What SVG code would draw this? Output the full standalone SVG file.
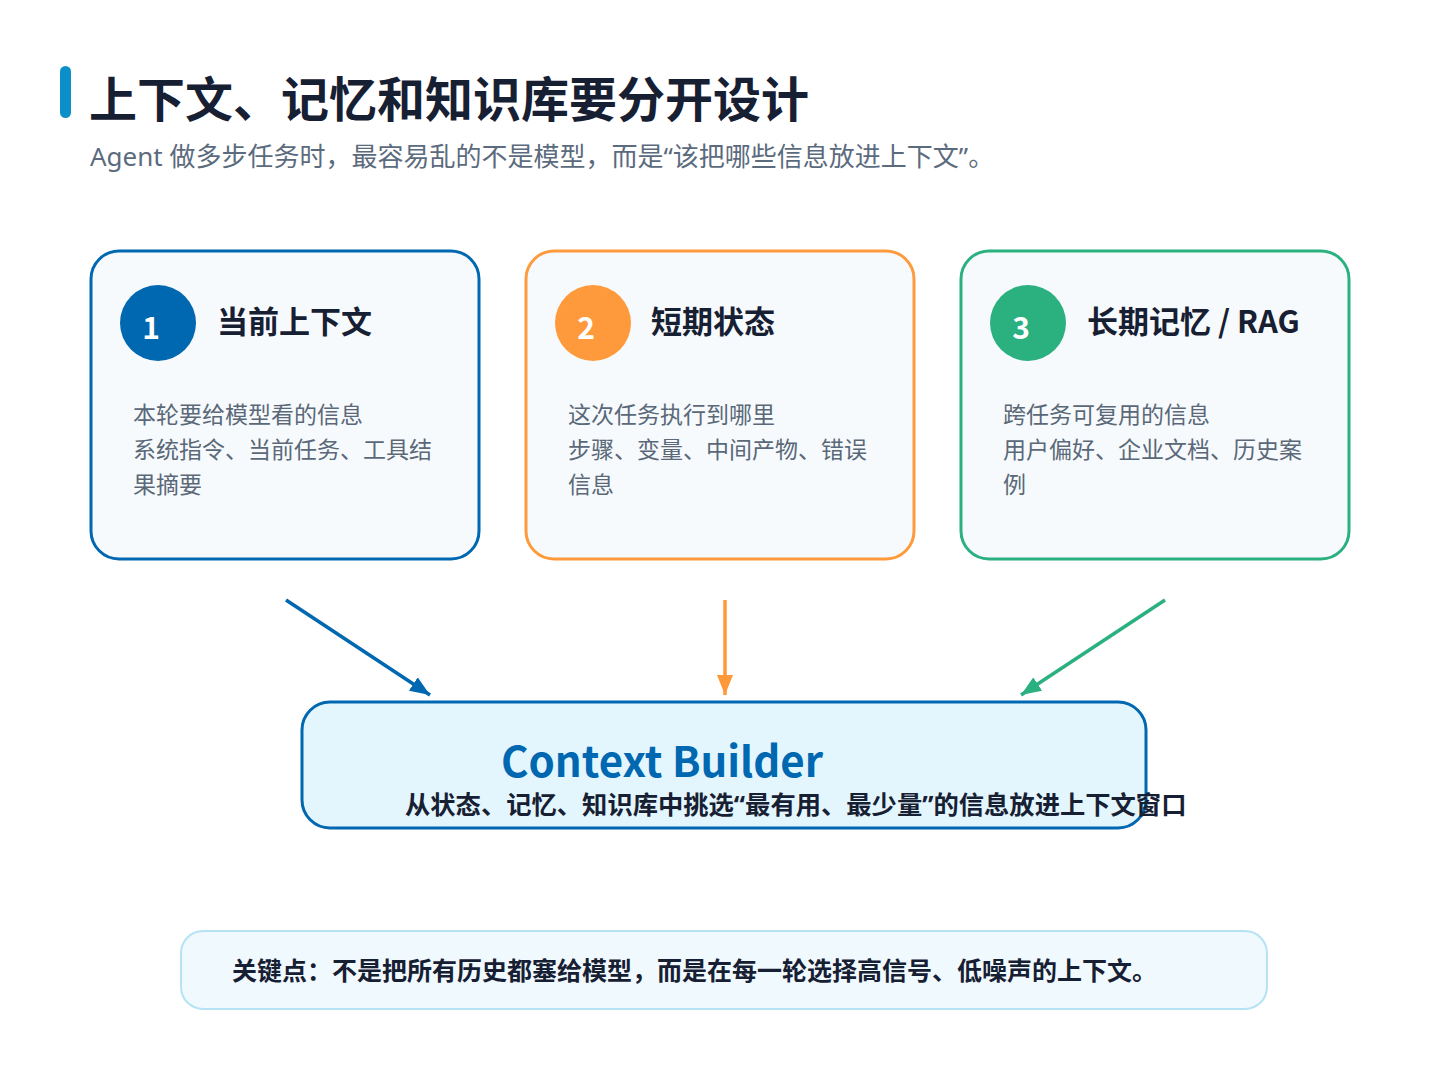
<svg xmlns="http://www.w3.org/2000/svg" width="1448" height="1086" viewBox="0 0 1448 1086">
<defs>
<style>
text{font-family:"Noto Sans CJK SC","Noto Sans",sans-serif;}
.lat{font-family:"Noto Sans","Noto Sans CJK SC",sans-serif;}
.title{font-size:48px;font-weight:700;fill:#172033;}
.sub{font-size:26px;fill:#5b6b7d;}
.card{stroke-width:3;fill:#f6fafd;}
.ct{font-size:31px;font-weight:700;fill:#172033;}
.num{font-size:30px;font-weight:700;fill:#ffffff;text-anchor:middle;}
.body{font-size:23px;fill:#5a6878;}
.conn{stroke-width:3.5;fill:none;}
</style>
<marker id="ab" viewBox="0 0 20 16" refX="20" refY="8" markerWidth="20" markerHeight="16" markerUnits="userSpaceOnUse" orient="auto"><path d="M0,0 L20,8 L0,16 Z" fill="#0067b1"/></marker>
<marker id="ao" viewBox="0 0 20 16" refX="20" refY="8" markerWidth="20" markerHeight="16" markerUnits="userSpaceOnUse" orient="auto"><path d="M0,0 L20,8 L0,16 Z" fill="#ff9838"/></marker>
<marker id="ag" viewBox="0 0 20 16" refX="20" refY="8" markerWidth="20" markerHeight="16" markerUnits="userSpaceOnUse" orient="auto"><path d="M0,0 L20,8 L0,16 Z" fill="#2bb07f"/></marker>
</defs>
<rect width="1448" height="1086" fill="#ffffff"/>
<g id="header">
<rect x="60" y="66" width="11" height="52" rx="5.5" fill="#0a8fc9"/>
<text class="title" x="89" y="117">上下文、记忆和知识库要分开设计</text>
<text class="sub lat" x="90" y="166">Agent 做多步任务时，最容易乱的不是模型，而是“该把哪些信息放进上下文”。</text>
</g>
<g id="node1">
<rect class="card" x="91" y="251" width="388" height="308" rx="28" stroke="#0067b1"/>
<circle cx="158" cy="323" r="38" fill="#0067b1"/>
<text class="num" x="151" y="339">1</text>
<text class="ct" x="217" y="333">当前上下文</text>
<text class="body" x="133" y="423">本轮要给模型看的信息</text>
<text class="body" x="133" y="458">系统指令、当前任务、工具结</text>
<text class="body" x="133" y="493">果摘要</text>
</g>
<g id="node2">
<rect class="card" x="526" y="251" width="388" height="308" rx="28" stroke="#ff9a3c"/>
<circle cx="593" cy="323" r="38" fill="#ff9a3c"/>
<text class="num" x="586" y="339">2</text>
<text class="ct" x="651" y="333">短期状态</text>
<text class="body" x="568" y="423">这次任务执行到哪里</text>
<text class="body" x="568" y="458">步骤、变量、中间产物、错误</text>
<text class="body" x="568" y="493">信息</text>
</g>
<g id="node3">
<rect class="card" x="961" y="251" width="388" height="308" rx="28" stroke="#2bb07f"/>
<circle cx="1028" cy="323" r="38" fill="#2bb07f"/>
<text class="num" x="1021" y="339">3</text>
<text class="ct" x="1087" y="333">长期记忆 / RAG</text>
<text class="body" x="1003" y="423">跨任务可复用的信息</text>
<text class="body" x="1003" y="458">用户偏好、企业文档、历史案</text>
<text class="body" x="1003" y="493">例</text>
</g>
<g id="connectors">
<line class="conn" x1="286" y1="600" x2="430" y2="695" stroke="#0067b1" marker-end="url(#ab)"/>
<line class="conn" x1="725" y1="600" x2="725" y2="695" stroke="#ff9838" marker-end="url(#ao)"/>
<line class="conn" x1="1165" y1="600" x2="1021" y2="695" stroke="#2bb07f" marker-end="url(#ag)"/>
</g>
<g id="builder">
<rect x="302" y="702" width="844" height="126" rx="28" fill="#e4f6fd" stroke="#0067b1" stroke-width="3"/>
<text x="501" y="777" font-size="42" font-weight="700" fill="#0067b1">Context Builder</text>
<text class="lat" x="405" y="814" font-size="25.3" font-weight="700" fill="#172033">从状态、记忆、知识库中挑选“最有用、最少量”的信息放进上下文窗口</text>
</g>
<g id="keypoint">
<rect x="181" y="931" width="1086" height="78" rx="22" fill="#f0f9fe" stroke="#b5e3f3" stroke-width="2"/>
<text x="232" y="980" font-size="25" font-weight="700" fill="#172033">关键点：不是把所有历史都塞给模型，而是在每一轮选择高信号、低噪声的上下文。</text>
</g>
</svg>
